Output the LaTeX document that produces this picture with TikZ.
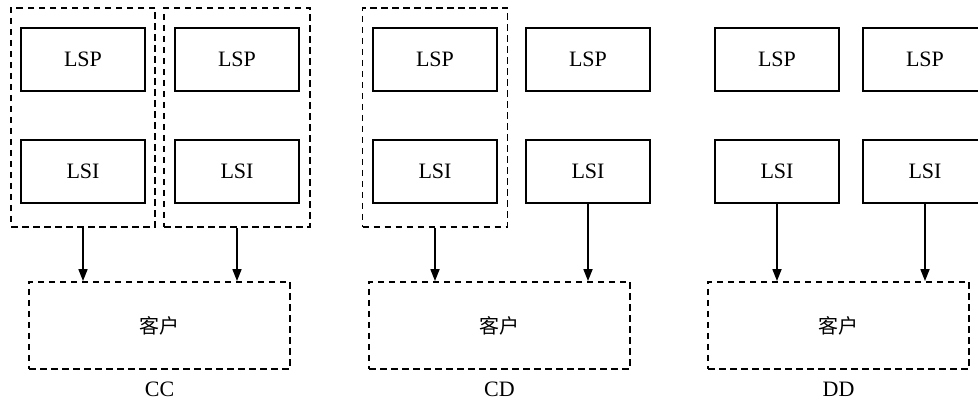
\documentclass[tikz,border=0pt]{standalone}
\usepackage{fontspec}
\setmainfont{Liberation Serif}
\newfontfamily\cjk{Noto Sans CJK SC}
\usepackage{tikz}
\usetikzlibrary{arrows.meta,positioning}

\begin{document}
\begin{tikzpicture}[
    x=1pt, y=-1pt,
    font=\fontsize{22}{26}\selectfont,
    lbox/.style={rectangle, draw=black, line width=1.6pt, minimum width=124pt, minimum height=63pt, inner sep=0pt},
    grp/.style={rectangle, draw=black, dash pattern=on 6.5pt off 4.5pt, line width=1.6pt, inner sep=0pt},
    client/.style={rectangle, draw=black, dash pattern=on 6.5pt off 4.5pt, line width=1.8pt, minimum width=261pt, minimum height=87pt, inner sep=0pt},
    arrow/.style={-{Triangle[length=12pt, width=9pt]}, line width=1.7pt},
]
\clip (0,0) rectangle (978,403);

% CC
\node[grp, minimum width=144pt, minimum height=219pt] (ccg1) at (83,117.5) {};
\node[grp, minimum width=146pt, minimum height=219pt] (ccg2) at (237,117.5) {};
\node[lbox] (cclsp1) at (83,59.5) {LSP};
\node[lbox] (cclsi1) at (83,171.5) {LSI};
\node[lbox] (cclsp2) at (237,59.5) {LSP};
\node[lbox] (cclsi2) at (237,171.5) {LSI};
\node[client] (cc) at (159.5,325.5) {\cjk\fontsize{20}{24}\selectfont 客户};
\node[below=9pt of cc] (cclab) {CC};
\draw[arrow] (ccg1.south) -- (ccg1.south |- cc.north);
\draw[arrow] (ccg2.south) -- (ccg2.south |- cc.north);

% CD
\node[grp, minimum width=145pt, minimum height=219pt] (cdg1) at (435,117.5) {};
\node[lbox] (cdlsp1) at (435,59.5) {LSP};
\node[lbox] (cdlsi1) at (435,171.5) {LSI};
\node[lbox] (cdlsp2) at (588,59.5) {LSP};
\node[lbox] (cdlsi2) at (588,171.5) {LSI};
\node[client] (cd) at (499.5,325.5) {\cjk\fontsize{20}{24}\selectfont 客户};
\node[below=9pt of cd] (cdlab) {CD};
\draw[arrow] (cdg1.south) -- (cdg1.south |- cd.north);
\draw[arrow] (cdlsi2.south) -- (cdlsi2.south |- cd.north);

% DD
\node[lbox] (ddlsp1) at (777,59.5) {LSP};
\node[lbox] (ddlsi1) at (777,171.5) {LSI};
\node[lbox] (ddlsp2) at (925,59.5) {LSP};
\node[lbox] (ddlsi2) at (925,171.5) {LSI};
\node[client] (dd) at (838.5,325.5) {\cjk\fontsize{20}{24}\selectfont 客户};
\node[below=9pt of dd] (ddlab) {DD};
\draw[arrow] (ddlsi1.south) -- (ddlsi1.south |- dd.north);
\draw[arrow] (ddlsi2.south) -- (ddlsi2.south |- dd.north);

\end{tikzpicture}
\end{document}
